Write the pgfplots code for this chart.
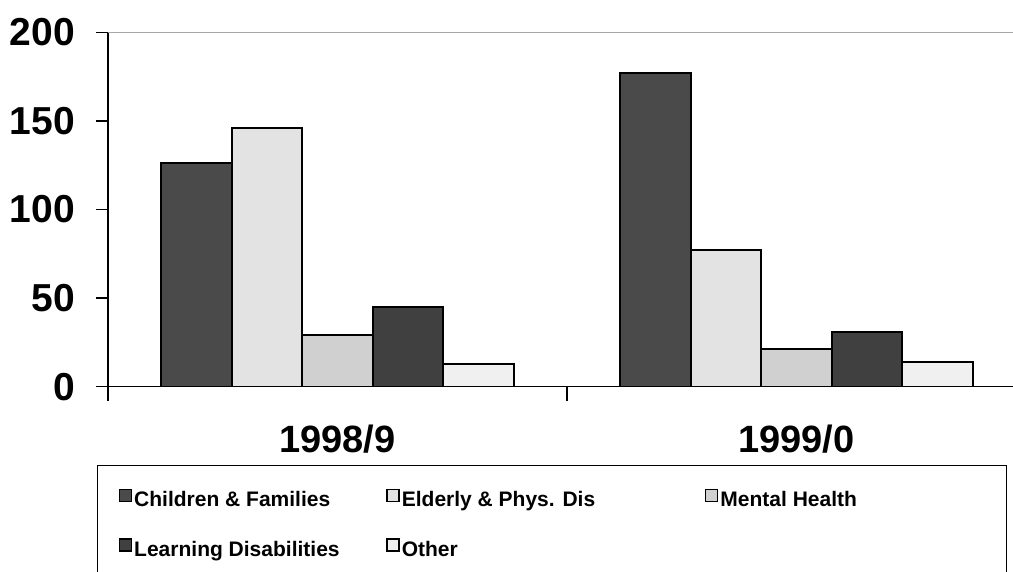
\documentclass[border=0pt]{standalone}
\usepackage{pgfplots}
\pgfplotsset{compat=1.18}
\usepackage{fontspec}
\setmainfont{Liberation Sans}
\definecolor{c1}{HTML}{4A4A4A}
\definecolor{c2}{HTML}{E3E3E3}
\definecolor{c3}{HTML}{D0D0D0}
\definecolor{c4}{HTML}{404040}
\definecolor{c5}{HTML}{F0F0F0}
\begin{document}
\begin{tikzpicture}
\useasboundingbox (-108pt,-185.3pt) rectangle (905pt,386.7pt);
\begin{axis}[
 anchor=south west, at={(0pt,0pt)},
 scale only axis, width=918pt, height=354.3pt,
 xmin=-0.5, xmax=1.5, ymin=0, ymax=200,
 axis lines=left,
 axis line style={line width=1.6pt, -},
 ybar=0pt, bar width=70.6pt,
 /pgf/number format/assume math mode=true,
 ytick={0,50,100,150,200},
 yticklabels={0,50,100,150,200},
 ytick style={black, line width=1.6pt},
 tick align=outside, major tick length=12pt,
 yticklabel style={font=\fontsize{39}{45}\selectfont\bfseries, inner sep=0pt, xshift=-21pt},
 xtick={0,1}, xticklabels={1998/9,1999/0},
 xtick style={draw=none},
 xticklabel style={font=\fontsize{38}{44}\selectfont\bfseries, inner sep=0pt, yshift=-26pt},
 extra x ticks={-0.5,0.5,1.5}, extra x tick labels={},
 extra x tick style={xtick style={draw=black, line width=1.6pt}, major tick length=14pt},
 extra y ticks={200}, extra y tick labels={},
 extra y tick style={ymajorgrids=true, major grid style={draw=gray!70, line width=1pt}},
 legend columns=3,
 legend image code/.code={\draw[#1, draw=black, line width=1.6pt] (0pt,-3.2pt) rectangle (12pt,8.8pt);},
 legend style={
   at={(-0.012,-0.221)}, anchor=north west,
   draw=black, line width=1.3pt, inner xsep=21pt, inner ysep=22.8pt,
   font=\fontsize{21}{26}\selectfont\bfseries,
   row sep=30pt,
   /tikz/every odd column/.append style={column sep=2pt},
   /tikz/every even column/.append style={column sep=0pt},
   nodes={inner sep=0pt},
 },
]
\addplot[fill=c1, draw=black, line width=2pt] coordinates {(0,126) (1,177)};
\addlegendentry{\makebox[252pt][l]{\strut Children \& Families}}
\addplot[fill=c2, draw=black, line width=2pt] coordinates {(0,146) (1,77)};
\addlegendentry{\makebox[303pt][l]{\strut Elderly \& Phys. Dis}}
\addplot[fill=c3, draw=black, line width=2pt] coordinates {(0,29) (1,21)};
\addlegendentry{\makebox[265pt][l]{\strut Mental Health}}
\addplot[fill=c4, draw=black, line width=2pt] coordinates {(0,45) (1,31)};
\addlegendentry{\makebox[252pt][l]{\strut Learning Disabilities}}
\addplot[fill=c5, draw=black, line width=2pt] coordinates {(0,13) (1,14)};
\addlegendentry{\makebox[303pt][l]{\strut Other}}
\end{axis}
\end{tikzpicture}
\end{document}
